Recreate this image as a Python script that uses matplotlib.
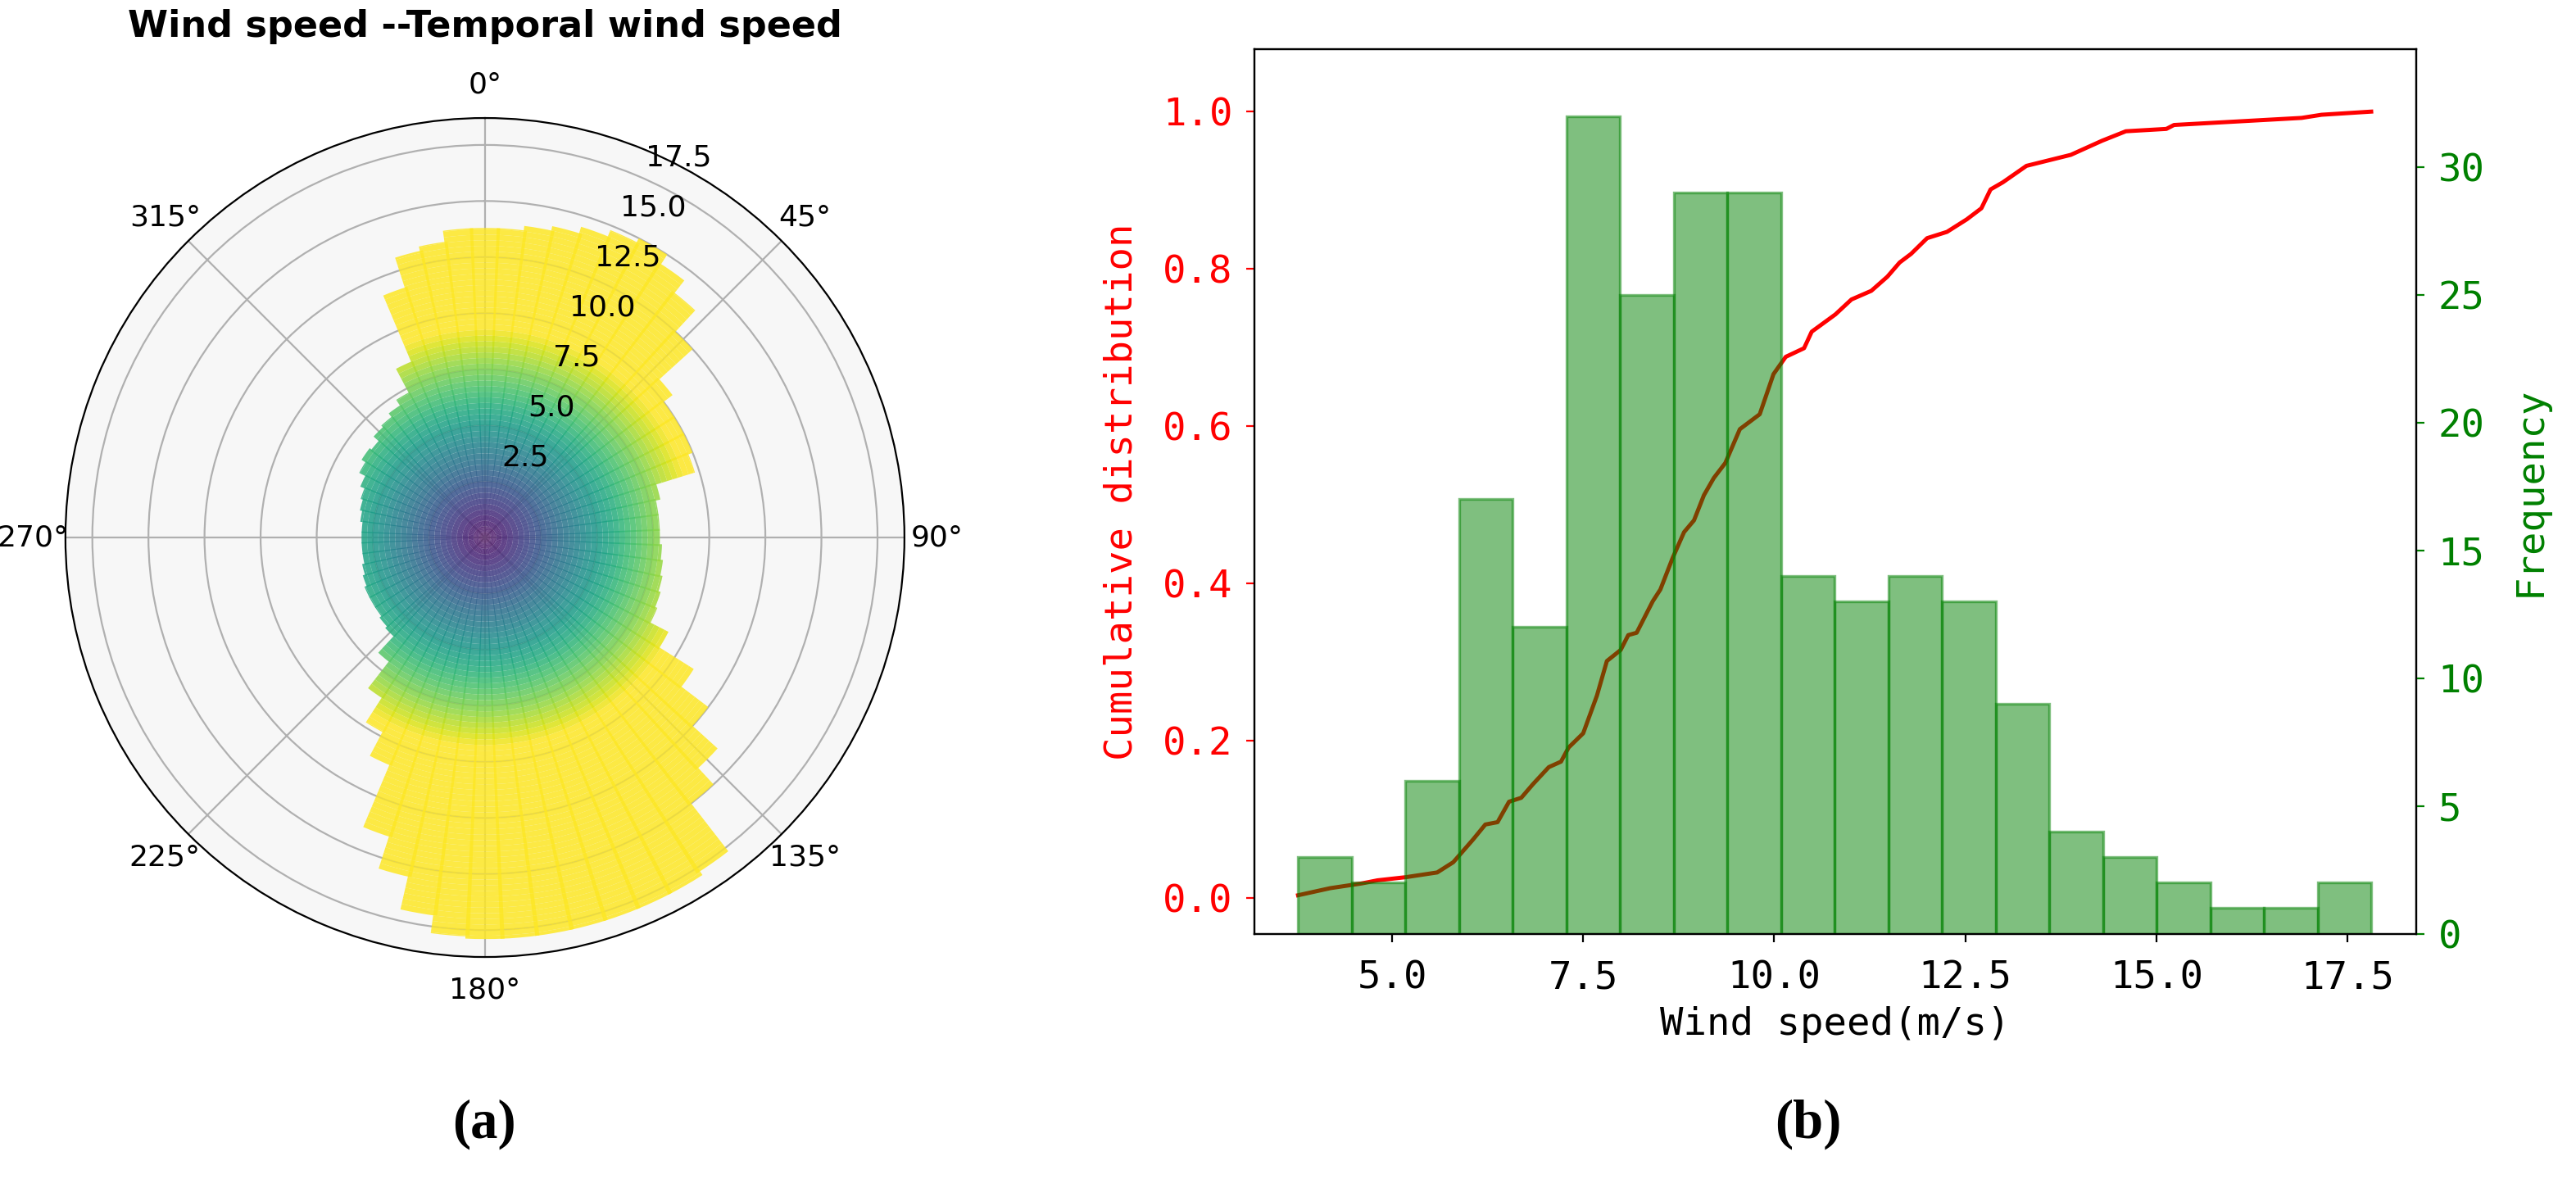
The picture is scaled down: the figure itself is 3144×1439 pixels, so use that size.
import numpy as np
import matplotlib
matplotlib.use('Agg')
import matplotlib.pyplot as plt
from matplotlib.cm import viridis

# polar rose: direction (deg, every 5) -> max wind speed reached in that sector
dir_deg = list(range(0, 360, 5))
dir_speed = [13.8, 13.8, 14.0, 14.2, 14.5, 14.8, 15.0, 14.5, 13.8, 12.5, 10.5, 10.0,
             10.0, 10.0, 9.8, 8.0, 7.8, 7.8, 7.8, 7.9, 8.0, 8.1, 8.2, 8.3,
             9.2, 11.0, 12.5, 14.0, 15.0, 17.7, 17.9, 17.9, 17.9, 17.9, 17.9, 17.9,
             17.9, 17.8, 17.0, 15.5, 14.0, 11.0, 9.8, 8.5, 7.0, 6.0, 5.9, 5.8,
             5.8, 5.8, 5.7, 5.6, 5.5, 5.5, 5.5, 5.5, 5.6, 5.7, 5.8, 6.0,
             6.3, 6.5, 6.4, 6.7, 6.8, 7.0, 7.3, 8.5, 11.7, 13.1, 13.3, 13.8]
r_ticks = [2.5, 5.0, 7.5, 10.0, 12.5, 15.0, 17.5]

# histogram of wind speed
bin_edges = np.linspace(3.77, 17.81, 21)
freq = [3, 2, 6, 17, 12, 32, 25, 29, 29, 14, 13, 14, 13, 9, 4, 3, 2, 1, 1, 2]

# empirical cumulative distribution
cdf_x = [3.77, 4.19, 4.60, 4.81, 5.18, 5.59, 5.80, 6.06, 6.22, 6.38, 6.53, 6.69,
         6.84, 7.05, 7.21, 7.31, 7.50, 7.68, 7.81, 7.99, 8.09, 8.20, 8.41, 8.51,
         8.67, 8.82, 8.95, 9.08, 9.21, 9.36, 9.55, 9.81, 9.99, 10.15, 10.39, 10.49,
         10.80, 11.01, 11.27, 11.48, 11.64, 11.79, 12.00, 12.26, 12.52, 12.71,
         12.83, 12.99, 13.30, 13.88, 14.29, 14.60, 15.13, 15.23, 16.90, 17.16, 17.81]
cdf_y = [0.003, 0.012, 0.018, 0.022, 0.026, 0.032, 0.045, 0.074, 0.093, 0.096,
         0.122, 0.127, 0.144, 0.166, 0.173, 0.191, 0.209, 0.257, 0.301, 0.315,
         0.334, 0.337, 0.377, 0.392, 0.432, 0.465, 0.480, 0.512, 0.534, 0.553,
         0.596, 0.615, 0.666, 0.688, 0.699, 0.720, 0.742, 0.761, 0.772, 0.790,
         0.808, 0.819, 0.839, 0.847, 0.863, 0.877, 0.901, 0.910, 0.931, 0.945,
         0.963, 0.975, 0.978, 0.983, 0.992, 0.996, 1.0]

fig = plt.figure(figsize=(15.72, 7.195), dpi=200)

# (a) polar
ax = fig.add_axes([0.0254, 0.1883, 0.3257, 0.7116], projection='polar')
ax.set_theta_zero_location('N')
ax.set_theta_direction(-1)
ax.set_facecolor('#f7f7f7')
step = 0.25
for d, s in zip(dir_deg, dir_speed):
    rs = np.arange(0, s, step)
    hs = np.minimum(step, s - rs)
    cols = viridis(np.clip((rs + hs) / 9.5, 0, 1))
    ax.bar(np.full(len(rs), np.radians(d)), hs, width=np.radians(5.6), bottom=rs,
           color=cols, alpha=0.85, linewidth=0, zorder=2)
ax.set_ylim(0, 18.7)
ax.set_yticks(r_ticks)
ax.set_yticklabels([])
# radial labels sit a bit outside their rings, like the original
for v in r_ticks:
    ax.text(np.radians(27), v + 1.5, f'{v:.1f}', fontsize=13, ha='center',
            va='center', zorder=5)
ax.tick_params(labelsize=13)
ax.tick_params(axis='x', pad=4)
ax.grid(True, color='#b0b0b0', linewidth=0.8)
for gl in ax.yaxis.get_gridlines() + ax.xaxis.get_gridlines():
    gl.set_zorder(3)
ax.set_title('Wind speed --Temporal wind speed', fontsize=16, fontweight='bold', pad=15)

# (b) CDF + histogram
mono = 'DejaVu Sans Mono'
ax1 = fig.add_axes([0.487, 0.208, 0.451, 0.750])
ax1.plot(cdf_x, cdf_y, color='red', linewidth=1.8)
ax1.set_ylim(-0.046, 1.079)
ax1.set_xlim(3.2, 18.4)
ax1.set_ylabel('Cumulative distribution', color='red', fontsize=17, family=mono,
               labelpad=10)
ax1.set_xlabel('Wind speed(m/s)', fontsize=17, family=mono, labelpad=4)
ax1.set_xticks([5, 7.5, 10, 12.5, 15, 17.5])
ax1.set_xticklabels(['5.0', '7.5', '10.0', '12.5', '15.0', '17.5'])
ax1.set_yticks([0, 0.2, 0.4, 0.6, 0.8, 1.0])
ax1.set_yticklabels(['0.0', '0.2', '0.4', '0.6', '0.8', '1.0'])
ax1.tick_params(axis='y', colors='red', labelsize=17, pad=6)
ax1.tick_params(axis='x', labelsize=17, pad=8)
for lab in ax1.get_xticklabels() + ax1.get_yticklabels():
    lab.set_family(mono)

ax2 = ax1.twinx()
ax2.hist(bin_edges[:-1], bins=bin_edges, weights=freq, color='green', alpha=0.5,
         edgecolor='green', linewidth=1.2)
ax2.set_ylim(0, 34.6)
ax2.set_ylabel('Frequency', color='green', fontsize=17, family=mono, labelpad=12)
ax2.tick_params(axis='y', colors='green', labelsize=17, pad=6)
for lab in ax2.get_yticklabels():
    lab.set_family(mono)

fig.text(0.188, 0.035, '(a)', fontsize=24, family='Liberation Serif', ha='center',
         fontweight='bold')
fig.text(0.702, 0.035, '(b)', fontsize=24, family='Liberation Serif', ha='center',
         fontweight='bold')

fig.savefig('out.png', dpi=200)
